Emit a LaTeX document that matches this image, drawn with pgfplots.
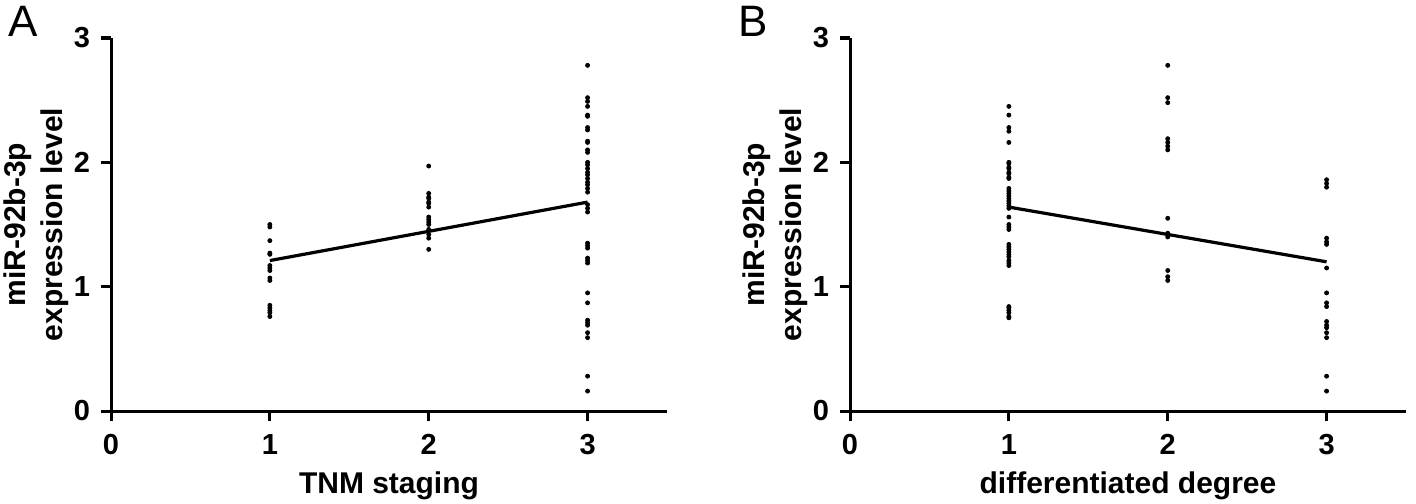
\documentclass[border=0pt]{standalone}
\usepackage{pgfplots}
\pgfplotsset{compat=1.18}
\usepackage{fontspec}
\setmainfont{Liberation Sans}
\pgfplotsset{gp/.style={
  scale only axis, width=278pt, height=186.5pt,
  xmin=0, xmax=3.5, ymin=0, ymax=3,
  axis x line*=bottom, axis y line*=left,
  xtick={0,1,2,3}, ytick={0,1,2,3},
  tick align=outside, major tick length=5pt,
  axis line style={line width=1.5pt, black},
  xtick style={line width=1.5pt, black},
  ytick style={line width=1.5pt, black},
  tick label style={font=\fontsize{14.5}{16}\selectfont\bfseries},
  xticklabel style={yshift=-3pt},
  yticklabel style={xshift=-2pt},
  /pgf/number format/assume math mode=true,
  clip=false,
  ylabel style={font=\fontsize{15}{18.5}\selectfont\bfseries, align=center, at={(axis description cs:-0.135,0.5)}, anchor=center, rotate=0},
  xlabel style={font=\fontsize{15}{18.5}\selectfont\bfseries, at={(axis description cs:0.5,0)}, yshift=-41pt, anchor=base},
  ylabel={miR-92b-3p\\expression level},
  dots/.style={only marks, mark=*, mark size=1pt, black},
  reg/.style={no marks, black, line width=1.6pt},
}}
\begin{document}
\begin{tikzpicture}
\useasboundingbox (0,0) rectangle (708pt,251.5pt);
\node[anchor=base west, inner sep=0pt, font=\fontsize{22}{26}\selectfont] at (4pt,233pt) {A};
\node[anchor=base west, inner sep=0pt, font=\fontsize{22}{26}\selectfont] at (369pt,233pt) {B};
\begin{axis}[gp, at={(55.5pt,46pt)}, anchor=south west, xlabel={TNM staging}]
\addplot[dots] coordinates {
(1,1.50)(1,1.48)(1,1.37)(1,1.27)(1,1.26)(1,1.17)(1,1.15)(1,1.13)(1,1.07)(1,1.05)(1,0.85)(1,0.83)(1,0.81)(1,0.79)(1,0.76)
(2,1.97)(2,1.75)(2,1.72)(2,1.71)(2,1.68)(2,1.67)(2,1.64)(2,1.56)(2,1.54)(2,1.52)(2,1.50)(2,1.46)(2,1.42)(2,1.39)(2,1.30)
(3,2.78)(3,2.52)(3,2.49)(3,2.45)(3,2.38)(3,2.37)(3,2.28)(3,2.26)(3,2.17)(3,2.16)(3,2.10)(3,2.08)(3,2.00)(3,1.98)(3,1.95)(3,1.92)(3,1.90)(3,1.87)(3,1.84)(3,1.82)(3,1.79)(3,1.76)(3,1.66)(3,1.63)(3,1.60)(3,1.35)(3,1.33)(3,1.31)(3,1.23)(3,1.21)(3,1.19)(3,0.95)(3,0.87)(3,0.73)(3,0.71)(3,0.69)(3,0.63)(3,0.59)(3,0.28)(3,0.16)
};
\addplot[reg] coordinates {(1,1.21)(3,1.68)};
\end{axis}
\begin{axis}[gp, at={(425pt,46pt)}, anchor=south west, xlabel={differentiated degree}]
\addplot[dots] coordinates {
(1,2.45)(1,2.38)(1,2.28)(1,2.25)(1,2.16)(1,2.00)(1,1.99)(1,1.96)(1,1.95)(1,1.92)(1,1.91)(1,1.88)(1,1.87)(1,1.79)(1,1.77)(1,1.75)(1,1.73)(1,1.71)(1,1.69)(1,1.67)(1,1.65)(1,1.63)(1,1.56)(1,1.50)(1,1.48)(1,1.46)(1,1.34)(1,1.32)(1,1.30)(1,1.28)(1,1.26)(1,1.24)(1,1.21)(1,1.19)(1,1.17)(1,0.84)(1,0.83)(1,0.81)(1,0.79)(1,0.76)(1,0.75)
(2,2.78)(2,2.52)(2,2.48)(2,2.19)(2,2.16)(2,2.13)(2,2.10)(2,1.55)(2,1.43)(2,1.42)(2,1.40)(2,1.13)(2,1.08)(2,1.05)
(3,1.86)(3,1.83)(3,1.80)(3,1.39)(3,1.36)(3,1.34)(3,1.15)(3,0.95)(3,0.87)(3,0.84)(3,0.72)(3,0.69)(3,0.67)(3,0.63)(3,0.59)(3,0.28)(3,0.16)
};
\addplot[reg] coordinates {(1,1.64)(3,1.20)};
\end{axis}
\end{tikzpicture}
\end{document}
